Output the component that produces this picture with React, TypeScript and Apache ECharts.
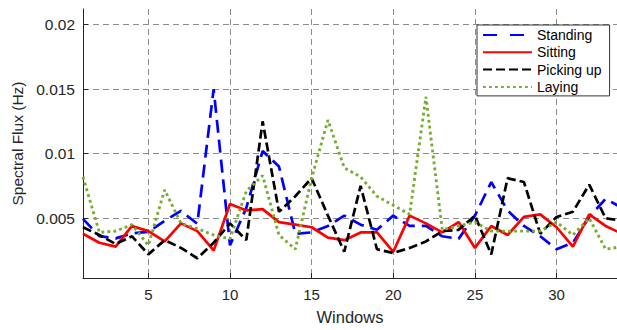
import React, { useEffect, useRef } from "react";
import * as echarts from "echarts";

const windows = [1, 2, 3, 4, 5, 6, 7, 8, 9, 10, 11, 12, 13, 14, 15, 16, 17, 18, 19, 20, 21, 22, 23, 24, 25, 26, 27, 28, 29, 30, 31, 32, 33, 34];

const standing = [0.00495, 0.00361, 0.00344, 0.00382, 0.00394, 0.0048, 0.00557, 0.00457, 0.015, 0.0029, 0.0058, 0.0102, 0.009, 0.0038, 0.0039, 0.0044, 0.0052, 0.0045, 0.0041, 0.0052, 0.0044, 0.0044, 0.0036, 0.0034, 0.0052, 0.0078, 0.0056, 0.0044, 0.0036, 0.0026, 0.0031, 0.0051, 0.0065, 0.0058];
const sitting = [0.0038, 0.0031, 0.0028, 0.0044, 0.004, 0.0032, 0.0046, 0.004, 0.0025, 0.0061, 0.0056, 0.0057, 0.0047, 0.0045, 0.0043, 0.0035, 0.0033, 0.0039, 0.0039, 0.0024, 0.0052, 0.0046, 0.0039, 0.0047, 0.0027, 0.0044, 0.0037, 0.0051, 0.0053, 0.0043, 0.0028, 0.0053, 0.0044, 0.0038];
const pickingUp = [0.0043, 0.0037, 0.003, 0.0036, 0.0022, 0.0033, 0.0027, 0.0019, 0.0031, 0.0046, 0.0033, 0.0125, 0.0055, 0.0067, 0.0081, 0.0052, 0.0024, 0.0075, 0.0026, 0.0023, 0.0027, 0.0032, 0.004, 0.0041, 0.0052, 0.0022, 0.0081, 0.0078, 0.0038, 0.0051, 0.0055, 0.0076, 0.005, 0.0048];
const laying = [0.0082, 0.0039, 0.004, 0.0045, 0.0029, 0.0072, 0.0046, 0.0042, 0.0037, 0.0034, 0.0071, 0.0083, 0.0037, 0.0026, 0.0081, 0.0126, 0.0089, 0.0082, 0.0067, 0.006, 0.0053, 0.0144, 0.0041, 0.0044, 0.0047, 0.004, 0.004, 0.004, 0.004, 0.0047, 0.0037, 0.005, 0.0026, 0.0028];

const xTicks = [5, 10, 15, 20, 25, 30];
const yTicks = [0.005, 0.01, 0.015, 0.02];

const seriesNames = ["Standing", "Sitting", "Picking up", "Laying"];

export default function App() {
  const ref = useRef<HTMLDivElement>(null);
  useEffect(() => {
    if (!ref.current) return;
    const chart = echarts.init(ref.current, undefined, { renderer: "svg" });
    const pairs = (vals: number[]) => windows.map((w, i) => [w, vals[i]]);
    const font = "'Liberation Sans', Arial, sans-serif";
    const gridLine = { show: true, lineStyle: { color: "#8c8c8c", width: 1, type: [6, 4] as any } };
    chart.setOption({
      animation: false,
      backgroundColor: "#ffffff",
      textStyle: { fontFamily: font },
      grid: { left: 83, right: 0, top: 9, bottom: 44, containLabel: false },
      legend: {
        orient: "vertical",
        left: 477,
        top: 25,
        itemWidth: 49,
        itemHeight: 14,
        itemGap: 3.3,
        padding: [3, 8, 2, 5],
        backgroundColor: "#ffffff",
        borderColor: "#333333",
        borderWidth: 1,
        borderRadius: 0,
        itemStyle: { opacity: 0, borderWidth: 0 },
        textStyle: { fontSize: 14, color: "#000000", fontFamily: font },
        data: [
          { name: seriesNames[0], lineStyle: { type: [14, 13] } },
          { name: seriesNames[1] },
          { name: seriesNames[2] },
          { name: seriesNames[3] },
        ],
      },
      xAxis: {
        type: "value",
        min: 1,
        max: 33.7,
        name: "Windows",
        nameLocation: "middle",
        nameGap: 30,
        nameTextStyle: { fontSize: 16.5, color: "#262626", fontFamily: font },
        axisLine: { show: true, lineStyle: { color: "#262626", width: 1 } },
        axisTick: { show: true, inside: true, length: 5, customValues: xTicks, lineStyle: { color: "#262626" } },
        axisLabel: { customValues: xTicks, fontSize: 15, color: "#262626", margin: 9, fontFamily: font },
        splitLine: gridLine,
      },
      yAxis: {
        type: "value",
        min: 0.00037,
        max: 0.0212,
        name: "Spectral Flux (Hz)",
        nameLocation: "middle",
        nameGap: 56,
        nameTextStyle: { fontSize: 15.5, color: "#262626", fontFamily: font },
        axisLine: { show: true, lineStyle: { color: "#262626", width: 1 } },
        axisTick: { show: true, inside: true, length: 5, customValues: yTicks, lineStyle: { color: "#262626" } },
        axisLabel: { customValues: yTicks, fontSize: 15.5, color: "#262626", margin: 8, fontFamily: font, formatter: (v: number) => String(v) },
        splitLine: gridLine,
      },
      series: [
        {
          name: "Standing",
          type: "line",
          data: pairs(standing),
          showSymbol: false,
          symbol: "none",
          clip: true,
          color: "#0000ff",
          lineStyle: { color: "#0000ff", width: 2.7, type: [13, 7] },
        },
        {
          name: "Sitting",
          type: "line",
          data: pairs(sitting),
          showSymbol: false,
          symbol: "none",
          clip: true,
          color: "#ff0000",
          lineStyle: { color: "#ff0000", width: 2.7, type: "solid" },
        },
        {
          name: "Picking up",
          type: "line",
          data: pairs(pickingUp),
          showSymbol: false,
          symbol: "none",
          clip: true,
          color: "#000000",
          lineStyle: { color: "#000000", width: 2.7, type: [9, 4] },
        },
        {
          name: "Laying",
          type: "line",
          data: pairs(laying),
          showSymbol: false,
          symbol: "none",
          clip: true,
          color: "#77ac30",
          lineStyle: { color: "#77ac30", width: 2.9, type: [2.8, 3.2] },
        },
      ],
    });
    return () => chart.dispose();
  }, []);
  return (
    <div
      ref={ref}
      style={{ position: "fixed", left: 0, top: 0, width: 617, height: 330 }}
    />
  );
}
